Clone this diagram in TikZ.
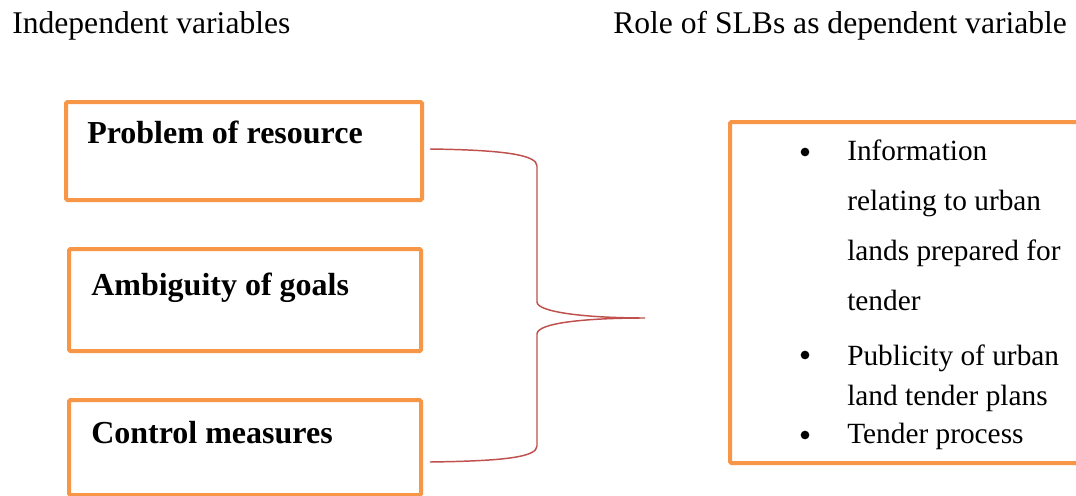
\documentclass[tikz,border=0pt]{standalone}
\usepackage{fontspec}
\setmainfont{Liberation Serif}
\definecolor{boxorange}{HTML}{F79646}
\definecolor{bracered}{HTML}{C0504D}
\begin{document}
\begin{tikzpicture}[x=0.75pt,y=-0.75pt,
  varbox/.style={draw=boxorange,line width=3pt,rounded corners=1pt,fill=white,
    anchor=north west,inner sep=0pt},
  label/.style={anchor=base west,inner sep=0pt,font=\fontsize{23.7}{28}\selectfont},
  itemlabel/.style={label,font=\fontsize{22}{26}\selectfont},
  boldlabel/.style={label,font=\fontsize{24}{28}\selectfont\bfseries},
  bracepath/.style={draw=bracered,line width=1.1pt},
  dot/.style={circle,fill=black,inner sep=0pt,minimum size=6.5pt}]
\clip (0,0) rectangle (1076,496);
\fill[white] (0,0) rectangle (1076,496);

% column headings
\node[label] (hind) at (12,33) {Independent variables};
\node[label] (hdep) at (613,33) {Role of SLBs as dependent variable};

% independent variables
\node[varbox,minimum width=267pt,minimum height=73.5pt] (b1) at (64,100) {};
\node[varbox,minimum width=264pt,minimum height=76.5pt] (b2) at (67,247) {};
\node[varbox,minimum width=264pt,minimum height=71.25pt] (b3) at (67,398) {};
\node[boldlabel] (t1) at (87,143) {Problem of resource};
\node[boldlabel] (t2) at (91,295) {Ambiguity of goals};
\node[boldlabel] (t3) at (91,443) {Control measures};

% dependent variable
\node[varbox,minimum width=285pt,minimum height=255.75pt] (dep) at (728,120) {};
\node[dot] (d1) at (805,152) {};
\node[dot] (d2) at (805,355) {};
\node[dot] (d3) at (805,435) {};
\node[itemlabel] (l1) at (847,160) {Information};
\node[itemlabel] (l2) at (847,210) {relating to urban};
\node[itemlabel] (l3) at (847,260) {lands prepared for};
\node[itemlabel] (l4) at (847,310) {tender};
\node[itemlabel] (l5) at (847,365) {Publicity of urban};
\node[itemlabel] (l6) at (847,405) {land tender plans};
\node[itemlabel] (l7) at (847,443) {Tender process};

% brace joining the three variables
\coordinate (top) at (430,149);
\coordinate (bot) at (430,462);
\coordinate (tip) at (645,318);
\draw[bracepath] (top) .. controls (505,150) and (537,155) .. (537,166)
  -- (537,302) .. controls (537,312) and (585,318) .. (tip)
  .. controls (585,318) and (537,323) .. (537,334)
  -- (537,446) .. controls (537,457) and (505,461) .. (bot);
\end{tikzpicture}
\end{document}
